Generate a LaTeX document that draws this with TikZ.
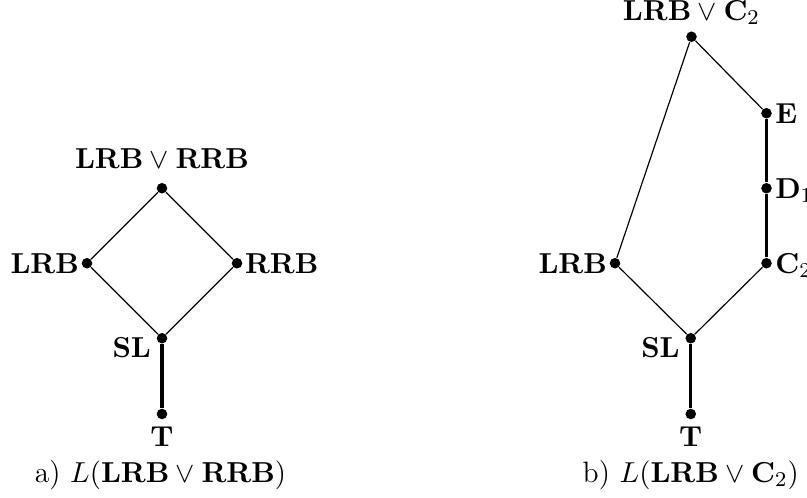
\documentclass[tikz,border=0pt]{standalone}
\usepackage{amsmath}
\begin{document}
\begin{tikzpicture}[
  dot/.style={circle,fill=black,inner sep=0pt,minimum size=4pt},
  thin edge/.style={line width=0.45pt},
  thick edge/.style={line width=1.25pt},
  lbl/.style={inner sep=0pt,font=\fontsize{11.2}{13}\selectfont}
]
\useasboundingbox (0,0) rectangle (10.76,6.64);
% left lattice
\node[dot] (aT) at (2.16,1.12) {};
\node[dot] (aSL) at (2.16,2.13) {};
\node[dot] (aLRB) at (1.16,3.13) {};
\node[dot] (aRRB) at (3.16,3.13) {};
\node[dot] (aTop) at (2.16,4.13) {};
\draw[thick edge] (aT) -- (aSL);
\draw[thin edge] (aSL) -- (aLRB) -- (aTop) -- (aRRB) -- (aSL);
\node[lbl,anchor=base] (aTl) at ([yshift=-0.44cm]aT.center) {$\mathbf{T}$};
\node[lbl,anchor=base east] (aSLl) at ([xshift=-0.14cm,yshift=-0.253cm]aSL.center) {$\mathbf{SL}$};
\node[lbl,anchor=base east] (aLRBl) at ([xshift=-0.1cm,yshift=-0.135cm]aLRB.center) {$\mathbf{LRB}$};
\node[lbl,anchor=base west] (aRRBl) at ([xshift=0.1cm,yshift=-0.135cm]aRRB.center) {$\mathbf{RRB}$};
\node[lbl,anchor=base] (aTopl) at ([yshift=0.265cm]aTop.center) {$\mathbf{LRB}\vee\mathbf{RRB}$};
\node[lbl,anchor=base] (capa) at (2.14,0.213) {a) $L(\mathbf{LRB}\vee\mathbf{RRB})$};
% right lattice
\node[dot] (bT) at (9.21,1.12) {};
\node[dot] (bSL) at (9.21,2.13) {};
\node[dot] (bLRB) at (8.2,3.13) {};
\node[dot] (bC) at (10.22,3.13) {};
\node[dot] (bD) at (10.22,4.13) {};
\node[dot] (bE) at (10.22,5.13) {};
\node[dot] (bTop) at (9.22,6.15) {};
\draw[thick edge] (bT) -- (bSL);
\draw[thick edge] (bC) -- (bD) -- (bE);
\draw[thin edge] (bSL) -- (bLRB) -- (bTop) -- (bE);
\draw[thin edge] (bSL) -- (bC);
\node[lbl,anchor=base] (bTl) at ([yshift=-0.44cm]bT.center) {$\mathbf{T}$};
\node[lbl,anchor=base east] (bSLl) at ([xshift=-0.14cm,yshift=-0.253cm]bSL.center) {$\mathbf{SL}$};
\node[lbl,anchor=base east] (bLRBl) at ([xshift=-0.1cm,yshift=-0.135cm]bLRB.center) {$\mathbf{LRB}$};
\node[lbl,anchor=base west] (bCl) at ([xshift=0.11cm,yshift=-0.135cm]bC.center) {$\mathbf{C}_2$};
\node[lbl,anchor=base west] (bDl) at ([xshift=0.11cm,yshift=-0.135cm]bD.center) {$\mathbf{D}_1$};
\node[lbl,anchor=base west] (bEl) at ([xshift=0.11cm,yshift=-0.135cm]bE.center) {$\mathbf{E}$};
\node[lbl,anchor=base] (bTopl) at ([yshift=0.222cm]bTop.center) {$\mathbf{LRB}\vee\mathbf{C}_2$};
\node[lbl,anchor=base] (capb) at (9.21,0.213) {b) $L(\mathbf{LRB}\vee\mathbf{C}_2)$};
\end{tikzpicture}
\end{document}
